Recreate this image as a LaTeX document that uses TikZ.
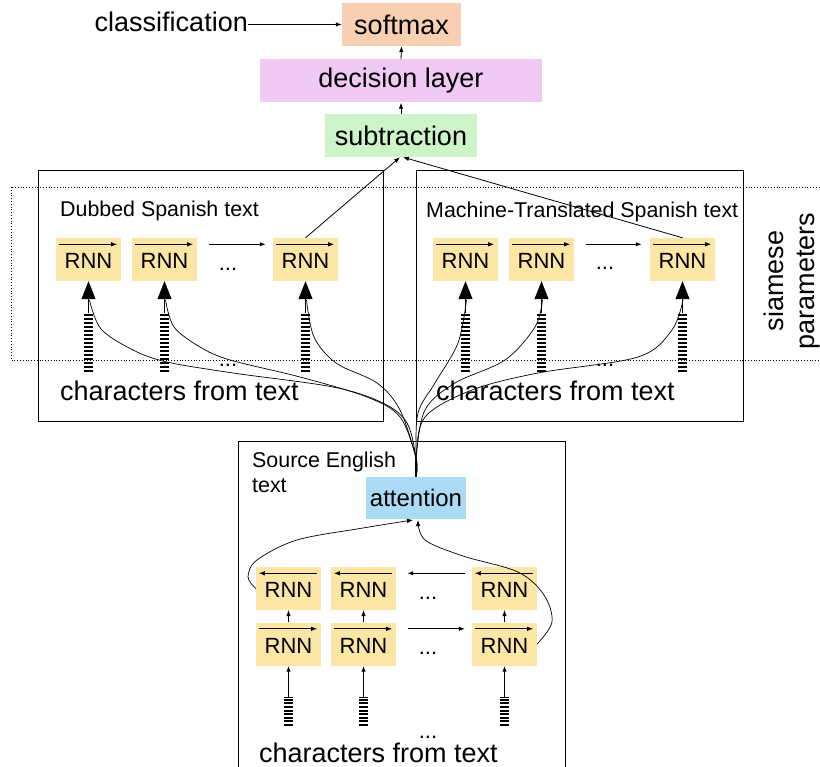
\documentclass[tikz,border=0pt]{standalone}
\usepackage{fontspec}
\setmainfont{Liberation Sans}
\usetikzlibrary{arrows.meta,calc}

\definecolor{softc}{RGB}{249,207,178}
\definecolor{decc}{RGB}{240,202,245}
\definecolor{subc}{RGB}{205,243,201}
\definecolor{attc}{RGB}{170,218,245}
\definecolor{rnnc}{RGB}{252,230,166}

% forward / backward arrow drawn along the top of an RNN cell
\newcommand\fwdarrow[1]{\draw[tip, line width=1pt] ([xshift=3pt,yshift=-6.5pt]#1.north west) -- ([xshift=-4pt,yshift=-6.5pt]#1.north east);}
\newcommand\bwdarrow[1]{\draw[tip, line width=1pt] ([xshift=-4pt,yshift=-6.5pt]#1.north east) -- ([xshift=3pt,yshift=-6.5pt]#1.north west);}

\begin{document}
\begin{tikzpicture}[x=1pt,y=-1pt,
  big/.style={font=\fontsize{27}{31}\selectfont},
  mid/.style={font=\fontsize{21.4}{25}\selectfont},
  dots/.style={font=\fontsize{22}{26}\selectfont, inner sep=0pt, anchor=base},
  layer/.style={inner sep=0pt, minimum height=43pt, font=\fontsize{27}{31}\selectfont},
  rnn/.style={fill=rnnc, minimum width=65pt, minimum height=43pt, inner sep=0pt,
    text height=18.8pt, text depth=0pt, font=\fontsize{22}{26}\selectfont},
  panel/.style={draw, line width=0.8pt, inner sep=0pt},
  tip/.style={-{Latex[length=6pt,width=4.5pt]}},
  bigtip/.style={-{Triangle[length=18pt,width=14pt]}, line width=0.8pt},
  bars/.style={line width=9pt, dash pattern=on 2pt off 2pt},
  smallbars/.style={line width=9pt, dash pattern=on 2pt off 1.6pt},
  curve/.style={line width=0.7pt},
]
\useasboundingbox (0,0) rectangle (820,767);

% ---------- top of the network ----------
\node[layer, fill=softc, minimum width=119pt] (soft) at (401.5,24.5) {softmax};
\node[layer, fill=decc, minimum width=282pt] (dec) at (401,81) {decision layer};
\node[layer, fill=subc, minimum width=152pt] (sub) at (401,135.5) {subtraction};
\node[big, anchor=base east, inner sep=0pt] (cls) at (248,32) {classification};
\draw[tip, line width=0.8pt] (cls.east |- soft.west) -- (soft.west);
\draw[tip, line width=0.8pt] (dec.north) -- (soft.south);
\draw[tip, line width=0.8pt] (sub.north) -- (dec.south);

% ---------- shared (siamese) parameter region ----------
\draw[dotted, line width=0.8pt] (11,187) rectangle (840,360);
\node[big, rotate=90, align=center, inner sep=0pt] (siam) at (792,281) {siamese\\parameters};

% ---------- panels ----------
\node[panel, minimum width=345pt, minimum height=251pt] (lp) at (210.5,295.5) {};
\node[panel, minimum width=327pt, minimum height=251pt] (rp) at (579.5,295.5) {};
\node[panel, minimum width=327pt, minimum height=349pt] (ep) at (401.5,615.5) {};

\node[mid, anchor=base west, inner sep=0pt] (ldesc) at (60,217) {Dubbed Spanish text};
\node[mid, anchor=base west, inner sep=0pt] (rdesc) at (426,218) {Machine-Translated Spanish text};
\node[mid, anchor=base west, inner sep=0pt, align=left] (edesc) at (252,493) {Source English\\text};

\node[big, anchor=base west, inner sep=0pt] (lchars) at (60,401) {characters from text};
\node[big, anchor=base west, inner sep=0pt] (rchars) at (436,401) {characters from text};
\node[big, anchor=base west, inner sep=0pt] (echars) at (259,762) {characters from text};

% ---------- Spanish encoders ----------
\foreach \n/\x in {l1/88.5, l2/164.5, l3/305.5, m1/465.5, m2/541.5, m3/682.5} {
  \node[rnn] (\n) at (\x,259.5) {RNN};
  \fwdarrow{\n}
  \coordinate (\n t) at (\x,313);
  \draw[bars] (\x,372) -- (\n t);
  \draw[bigtip] (\n t) -- (\n.south);
}
\draw[tip, line width=1.2pt] ([xshift=12pt,yshift=-6.5pt]l2.north east) -- ([xshift=-7pt,yshift=-6.5pt]l3.north west);
\draw[tip, line width=1.2pt] ([xshift=12pt,yshift=-6.5pt]m2.north east) -- ([xshift=-8pt,yshift=-6.5pt]m3.north west);
\node[dots] (ldots1) at (228,271) {...};
\node[dots] (ldots2) at (228,367) {...};
\node[dots] (rdots1) at (605,270) {...};
\node[dots] (rdots2) at (605,367) {...};

\draw[tip, line width=0.8pt] (l3.north) -- ([xshift=-1pt]sub.south);
\draw[tip, line width=0.8pt] (m3.north) -- ([xshift=2pt]sub.south);

% ---------- English encoder ----------
\node[fill=attc, minimum width=100pt, minimum height=42pt, inner sep=0pt,
      font=\fontsize{24}{28}\selectfont] (att) at (416,498) {attention};

\foreach \i/\x in {1/288.5, 2/363.5, 3/504.5} {
  \node[rnn] (b\i) at (\x,588.5) {RNN};
  \node[rnn] (f\i) at (\x,644) {RNN};
  \bwdarrow{b\i}
  \fwdarrow{f\i}
  \draw[tip, line width=0.6pt] (f\i.north) -- (b\i.south);
  \coordinate (f\i t) at (\x,697);
  \draw[smallbars] (\x,726) -- (f\i t);
  \draw[tip, line width=1.2pt] (f\i t) -- (f\i.south);
}
\draw[tip, line width=1.5pt] ([xshift=-7pt,yshift=-6.5pt]b3.north west) -- ([xshift=11pt,yshift=-6.5pt]b2.north east);
\draw[tip, line width=0.8pt] ([xshift=12pt,yshift=-6.5pt]f2.north east) -- ([xshift=-7pt,yshift=-6.5pt]f3.north west);
\node[dots] (edots1) at (428,599) {...};
\node[dots] (edots2) at (428,654) {...};
\node[dots] (edots3) at (428,738) {...};

% outputs of both directions feed the attention
\draw[curve, tip] plot[smooth, tension=0.55] coordinates
  {(b1.west) (248,577) (257,560) (297,540) (363,528) (413,520)};
\draw[curve, tip] plot[smooth, tension=0.55] coordinates
  {(f3.east) (552,622) (544,595) (518,572) (463,556) (425,540) (418,520)};

% attention context to every Spanish cell
\coordinate (l1h) at (89.5,300);
\coordinate (l2h) at (165.5,300);
\coordinate (l3h) at (306.5,300);
\coordinate (m1h) at (466.5,300);
\coordinate (m2h) at (542.5,300);
\coordinate (m3h) at (683,300);
\draw[curve] plot[smooth, tension=0.55] coordinates
  {(att.north) (416,458) (407,423) (383,403) (333,387) (233,373) (167,362) (133,350) (101,329) (l1h)};
\draw[curve] plot[smooth, tension=0.55] coordinates
  {(att.north) (416,458) (400,417) (367,397) (300,377) (230,360) (200,347) (174,327) (l2h)};
\draw[curve] plot[smooth, tension=0.55] coordinates
  {(att.north) (416,458) (400,410) (377,383) (336,363) (314,337) (l3h)};
\draw[curve] plot[smooth, tension=0.55] coordinates
  {(att.north) (416,458) (418,413) (435,383) (458,343) (m1h)};
\draw[curve] plot[smooth, tension=0.55] coordinates
  {(att.north) (416,458) (425,410) (455,383) (505,360) (535,327) (m2h)};
\draw[curve] plot[smooth, tension=0.55] coordinates
  {(att.north) (416,458) (425,417) (472,390) (538,373) (638,357) (672,330) (m3h)};
\end{tikzpicture}
\end{document}
